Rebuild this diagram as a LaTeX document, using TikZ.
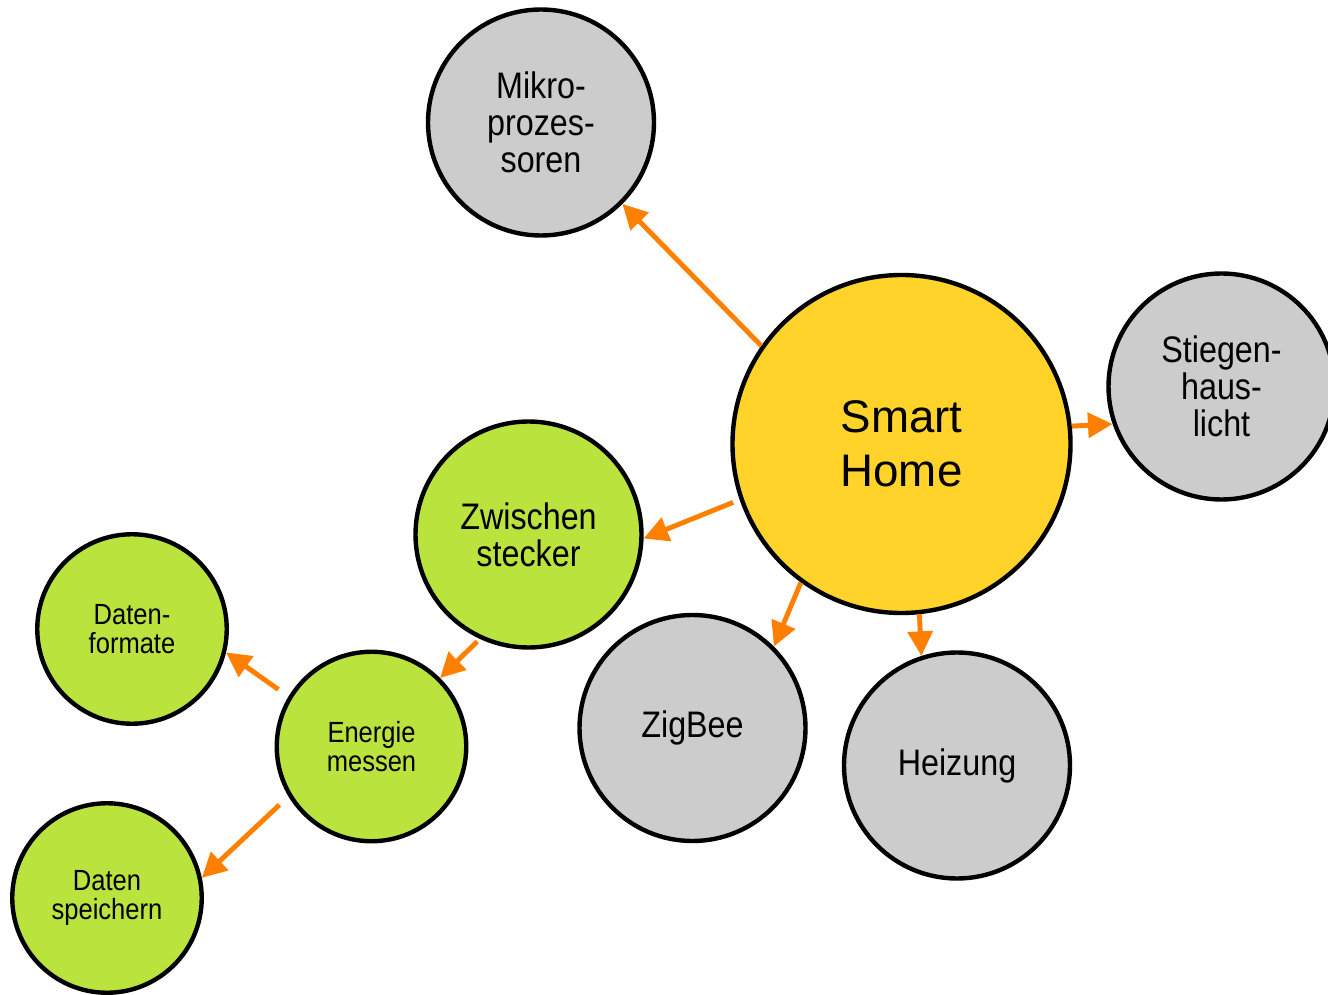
\documentclass[tikz,border=0pt]{standalone}
\usepackage{fontspec}
\setmainfont{Liberation Sans}
\newfontfamily\narrowfont[FakeStretch=0.875]{Liberation Sans}
\usetikzlibrary{arrows.meta}
\definecolor{goldA}  {RGB}{255, 211, 42}
\definecolor{limeA}  {RGB}{187, 227, 61}
\definecolor{greyA}  {RGB}{204, 204, 204}
\definecolor{orangeA}{RGB}{255, 128, 0}

\tikzset{
  topic/.style={circle, draw=black, line width=2.5pt, align=center, inner sep=0pt},
  bigtopic/.style={topic, minimum size=4.52cm, font=\narrowfont\fontsize{21pt}{21pt}\selectfont},
  smalltopic/.style={topic, fill=limeA, minimum size=3.79cm, font=\narrowfont\fontsize{16.6pt}{16.8pt}\selectfont},
  link/.style={draw=orangeA, line width=2.8pt, -{Triangle[length=14pt, width=14pt]}}
}

\begin{document}
\begin{tikzpicture}
  \useasboundingbox (0,0) rectangle (26.56,-19.9);

  \node[topic, fill=goldA, minimum size=6.76cm, font=\fontsize{26pt}{31pt}\selectfont]
    (sh) at (18.03,-8.88) {Smart\\Home};

  \node[bigtopic, fill=greyA] (mp) at (10.82,-2.45) {Mikro-\\prozes-\\soren};
  \node[bigtopic, fill=greyA] (st) at (24.43,-7.73) {Stiegen-\\haus-\\licht};
  \node[bigtopic, fill=limeA] (zw) at (10.57,-10.69) {Zwischen\\stecker};
  \node[bigtopic, fill=greyA] (zb) at (13.85,-14.56) {ZigBee};
  \node[bigtopic, fill=greyA] (hz) at (19.14,-15.31) {Heizung};

  \node[smalltopic] (df) at (2.64,-12.58) {Daten-\\formate};
  \node[smalltopic] (en) at (7.43,-14.93) {Energie\\messen};
  \node[smalltopic] (ds) at (2.14,-17.96) {Daten\\speichern};

  \draw[link] (sh.145) -- (mp.-45);
  \draw[link] (sh.6)   -- (st.199);
  \draw[link, shorten <=4pt] (sh.199) -- (zw.-2);
  \draw[link] (sh.234) -- (zb.45);
  \draw[link] (sh.-84) -- (hz.108);

  \draw[link, shorten <=2pt] (zw.-115) -- (en.45);
  \draw[link, shorten <=7pt] (en.149)  -- (df.-14);
  \draw[link, shorten <=7pt] (en.211)  -- (ds.12);

\end{tikzpicture}
\end{document}
